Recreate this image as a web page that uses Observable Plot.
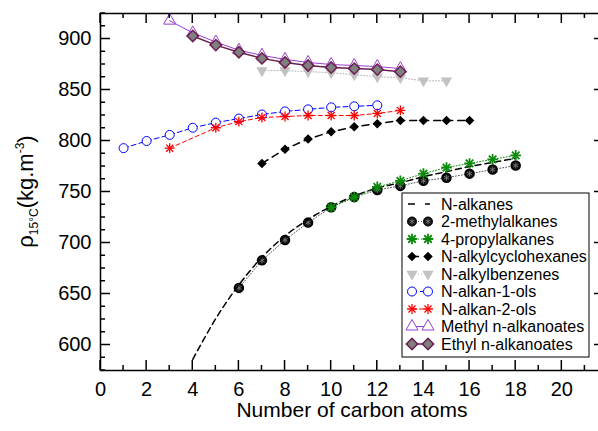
<!DOCTYPE html>
<html><head><meta charset="utf-8">
<script src="https://cdn.jsdelivr.net/npm/d3@7"></script>
<script src="https://cdn.jsdelivr.net/npm/@observablehq/plot@0.6"></script>
<style>
html,body{margin:0;padding:0;background:#fff;overflow:hidden;width:598px;height:431px}
#chart svg{max-width:none !important;display:block}
</style></head><body><div id="chart"></div>
<script>
// ---- data ----
const xTickLabels = [0, 2, 4, 6, 8, 10, 12, 14, 16, 18, 20];
const yTickLabels = [600, 650, 700, 750, 800, 850, 900];

const cAlkanes = [4, 5, 6, 7, 8, 9, 10, 11, 12, 13, 14, 15, 16, 17, 18];
const rhoAlkanes = [586, 626, 659, 686, 707, 723, 736, 746, 754, 759, 765, 770, 775, 779, 783];

const cMethylAlkanes = [6, 7, 8, 9, 10, 11, 12, 13, 14, 15, 16, 17, 18];
const rhoMethylAlkanes = [656, 683, 703, 720, 735, 745, 752, 756, 761, 764, 768, 772, 776];

const cPropylAlkanes = [10, 11, 12, 13, 14, 15, 16, 17, 18];
const rhoPropylAlkanes = [735, 745, 755, 761, 768, 774, 778, 782, 786];

const cCyclohexanes = [7, 8, 9, 10, 11, 12, 13, 14, 15, 16];
const rhoCyclohexanes = [778, 792, 802, 809, 814, 817, 820, 820, 820, 820];

const cBenzenes = [7, 8, 9, 10, 11, 12, 13, 14, 15];
const rhoBenzenes = [869, 869, 868, 867, 865, 863, 862, 859, 859];

const cAlkan1ols = [1, 2, 3, 4, 5, 6, 7, 8, 9, 10, 11, 12];
const rhoAlkan1ols = [793, 800, 806, 813, 818, 822, 826, 829, 831, 833, 834, 835];

const cAlkan2ols = [3, 5, 6, 7, 8, 9, 10, 11, 12, 13];
const rhoAlkan2ols = [793, 813, 819, 823, 824, 825, 825, 825, 827, 830];

const cMethylEsters = [3, 4, 5, 6, 7, 8, 9, 10, 11, 12, 13];
const rhoMethylEsters = [918, 906, 897, 889, 884, 880, 877, 875, 874, 873, 871];

const cEthylEsters = [4, 5, 6, 7, 8, 9, 10, 11, 12, 13];
const rhoEthylEsters = [903, 894, 887, 881, 877, 874, 872, 871, 870, 868];

const seriesNames = ["N-alkanes", "2-methylalkanes", "4-propylalkanes", "N-alkylcyclohexanes",
  "N-alkylbenzenes", "N-alkan-1-ols", "N-alkan-2-ols", "Methyl n-alkanoates", "Ethyl n-alkanoates"];

// ---- build ----
const rows = (c, r) => c.map((x, i) => ({x, y: r[i]}));
const FONT = "'Liberation Sans', Arial, Helvetica, sans-serif";
const GREEN = "#0b8a0b", PURPLE = "#9a3fd0", MAROON = "#6b1f4f", LGREY = "#c2c2c2";

const A = rows(cAlkanes, rhoAlkanes);
const M = rows(cMethylAlkanes, rhoMethylAlkanes);
const P = rows(cPropylAlkanes, rhoPropylAlkanes);
const C = rows(cCyclohexanes, rhoCyclohexanes);
const B = rows(cBenzenes, rhoBenzenes);
const O1 = rows(cAlkan1ols, rhoAlkan1ols);
const O2 = rows(cAlkan2ols, rhoAlkan2ols);
const ME = rows(cMethylEsters, rhoMethylEsters);
const EE = rows(cEthylEsters, rhoEthylEsters);

const chart = Plot.plot({
  width: 604, height: 431,
  marginLeft: 100, marginRight: 0, marginTop: 13, marginBottom: 61,
  style: {fontFamily: FONT, fontSize: "20px", color: "black", background: "white", overflow: "visible"},
  x: {domain: [0, 21.85], axis: null},
  y: {domain: [575, 925], axis: null},
  marks: [
    Plot.line(B, {x: "x", y: "y", stroke: "#b0b0b0", strokeWidth: 1, strokeDasharray: "1,2"}),
    Plot.dot(B, {x: "x", y: "y", symbol: "triangle", rotate: 180, r: 4.2, fill: LGREY, stroke: "none"}),
    Plot.line(M, {x: "x", y: "y", stroke: "#555", strokeWidth: 1, strokeDasharray: "1,2"}),
    Plot.dot(M, {x: "x", y: "y", symbol: "circle", r: 4.5, fill: "#111", stroke: "black"}),
    Plot.dot(M, {x: "x", y: "y", symbol: "asterisk", r: 2.7, stroke: "#7a7a7a", strokeWidth: 0.9}),
    Plot.line(A, {x: "x", y: "y", stroke: "black", strokeWidth: 1.5, strokeDasharray: "6,4", curve: "catmull-rom"}),
    Plot.line(P, {x: "x", y: "y", stroke: GREEN, strokeWidth: 1, strokeDasharray: "1,2"}),
    Plot.dot(P, {x: "x", y: "y", symbol: "plus", r: 3.5, stroke: GREEN, strokeWidth: 1.8}),
    Plot.dot(P, {x: "x", y: "y", symbol: "times", r: 3.5, stroke: GREEN, strokeWidth: 1.8}),
    Plot.line(C, {x: "x", y: "y", stroke: "black", strokeWidth: 1.5, strokeDasharray: "7,5"}),
    Plot.dot(C, {x: "x", y: "y", symbol: "square", rotate: 45, r: 3.8, fill: "black", stroke: "none"}),
    Plot.line(O1, {x: "x", y: "y", stroke: "#0000ff", strokeWidth: 1, strokeDasharray: "5,3"}),
    Plot.dot(O1, {x: "x", y: "y", symbol: "circle", r: 4.5, fill: "white", stroke: "#0000ff", strokeWidth: 1}),
    Plot.line(O2, {x: "x", y: "y", stroke: "#ff0000", strokeWidth: 1, strokeDasharray: "4,3"}),
    Plot.dot(O2, {x: "x", y: "y", symbol: "plus", r: 3.3, stroke: "#ff0000", strokeWidth: 1.3}),
    Plot.dot(O2, {x: "x", y: "y", symbol: "times", r: 3.3, stroke: "#ff0000", strokeWidth: 1.3}),
    Plot.line(ME, {x: "x", y: "y", stroke: PURPLE, strokeWidth: 1}),
    Plot.dot(ME, {x: "x", y: "y", symbol: "triangle", r: 4.5, fill: "none", stroke: PURPLE, strokeWidth: 1}),
    Plot.line(EE, {x: "x", y: "y", stroke: MAROON, strokeWidth: 1.5}),
    Plot.dot(EE, {x: "x", y: "y", symbol: "square", rotate: 45, r: 4.5, fill: "#808080", stroke: MAROON, strokeWidth: 1.5}),
    Plot.axisX({ticks: xTickLabels, tickSize: 0, tickPadding: 11, label: null, tickFormat: d => String(d), fontSize: 20}),
    Plot.axisY({ticks: yTickLabels, tickSize: 0, tickPadding: 9, label: null, tickFormat: d => String(d), fontSize: 20}),
    Plot.frame({stroke: "black", strokeWidth: 1.5})
  ]
});
document.getElementById("chart").appendChild(chart);

// ---- ticks through the plot scales ----
const sx = chart.scale("x"), sy = chart.scale("y");
const svg = d3.select(chart);
const pxLeft = sx.apply(sx.domain[0]), pxRight = sx.apply(sx.domain[1]);
const pyBottom = sy.apply(sy.domain[0]), pyTop = sy.apply(sy.domain[1]);
const tg = svg.append("g").attr("stroke", "black").attr("stroke-width", 1.5);
for (let v = 0; v <= 21; v++) {
  const px = sx.apply(v), len = v % 2 === 0 ? 10 : 5;
  tg.append("line").attr("x1", px).attr("x2", px).attr("y1", pyBottom).attr("y2", pyBottom - len);
  tg.append("line").attr("x1", px).attr("x2", px).attr("y1", pyTop).attr("y2", pyTop + len);
}
for (let v = 575; v <= 925; v += 12.5) {
  const py = sy.apply(v), len = v % 50 === 0 ? 10 : 5;
  tg.append("line").attr("x1", pxLeft).attr("x2", pxLeft + len).attr("y1", py).attr("y2", py);
  tg.append("line").attr("x1", pxRight).attr("x2", pxRight - len).attr("y1", py).attr("y2", py);
}

// ---- axis titles ----
svg.append("text").attr("x", 352).attr("y", 417).attr("text-anchor", "middle")
  .attr("font-family", FONT).attr("font-size", 21).attr("fill", "black").text("Number of carbon atoms");
const yl = svg.append("text").attr("transform", `translate(33,${(pyTop + pyBottom) / 2}) rotate(-90)`)
  .attr("text-anchor", "middle").attr("font-family", FONT).attr("font-size", 22).attr("fill", "black");
yl.append("tspan").text("ρ");
yl.append("tspan").attr("font-size", 12).attr("dy", 5).text("15°C");
yl.append("tspan").attr("dy", -5).text("(kg.m");
yl.append("tspan").attr("font-size", 12).attr("dy", -9).text("-3");
yl.append("tspan").attr("dy", 9).text(")");

// ---- legend ----
const lg = svg.append("g");
lg.append("rect").attr("x", 402).attr("y", 193).attr("width", 187).attr("height", 164)
  .attr("fill", "white").attr("stroke", "black").attr("stroke-width", 1);
const sym = (type, r) => d3.symbol(type, r * r * Math.PI)();
const specs = [
  {line: {stroke: "black", w: 1.5, dash: "7,10", x1: 408, x2: 430}},
  {line: {stroke: "#555", w: 1, dash: "1,2"}, marks: [{t: d3.symbolCircle, r: 4.5, fill: "#111", stroke: "black"}, {t: d3.symbolAsterisk, r: 2.7, fill: "none", stroke: "#7a7a7a", w: 0.9}]},
  {line: {stroke: GREEN, w: 1, dash: "1,2"}, marks: [{t: d3.symbolPlus, r: 3.5, fill: "none", stroke: GREEN, w: 1.8}, {t: d3.symbolTimes, r: 3.5, fill: "none", stroke: GREEN, w: 1.8}]},
  {line: {stroke: "black", w: 1.5, dash: "7,5"}, marks: [{t: d3.symbolSquare, r: 3.8, rot: 45, fill: "black", stroke: "none"}]},
  {line: {stroke: "#b0b0b0", w: 1, dash: "1,2"}, marks: [{t: d3.symbolTriangle, r: 4.2, rot: 180, fill: LGREY, stroke: "none"}]},
  {line: {stroke: "#0000ff", w: 1, dash: "5,3"}, marks: [{t: d3.symbolCircle, r: 4.5, fill: "white", stroke: "#0000ff", w: 1}]},
  {line: {stroke: "#ff0000", w: 1, dash: "4,3"}, marks: [{t: d3.symbolPlus, r: 3.3, fill: "none", stroke: "#ff0000", w: 1.3}, {t: d3.symbolTimes, r: 3.3, fill: "none", stroke: "#ff0000", w: 1.3}]},
  {line: {stroke: PURPLE, w: 1, dash: null}, marks: [{t: d3.symbolTriangle, r: 4.5, fill: "white", stroke: PURPLE, w: 1}]},
  {line: {stroke: MAROON, w: 1.5, dash: null}, marks: [{t: d3.symbolSquare, r: 4.5, rot: 45, fill: "#808080", stroke: MAROON, w: 1.5}]}
];
seriesNames.forEach((name, i) => {
  const cy = 204 + i * 17.5, s = specs[i];
  const l = s.line;
  lg.append("line").attr("x1", l.x1 ?? 412).attr("x2", l.x2 ?? 428).attr("y1", cy).attr("y2", cy)
    .attr("stroke", l.stroke).attr("stroke-width", l.w).attr("stroke-dasharray", l.dash);
  (s.marks || []).forEach(m => {
    [412, 428].forEach(px => {
      lg.append("path").attr("d", sym(m.t, m.r))
        .attr("transform", `translate(${px},${cy})${m.rot ? ` rotate(${m.rot})` : ""}`)
        .attr("fill", m.fill).attr("stroke", m.stroke).attr("stroke-width", m.w ?? 1);
    });
  });
  lg.append("text").attr("x", 441).attr("y", cy).attr("dy", "0.35em").attr("text-anchor", "start")
    .attr("font-family", FONT).attr("font-size", 16).attr("fill", "black").text(name);
});
</script></body></html>
